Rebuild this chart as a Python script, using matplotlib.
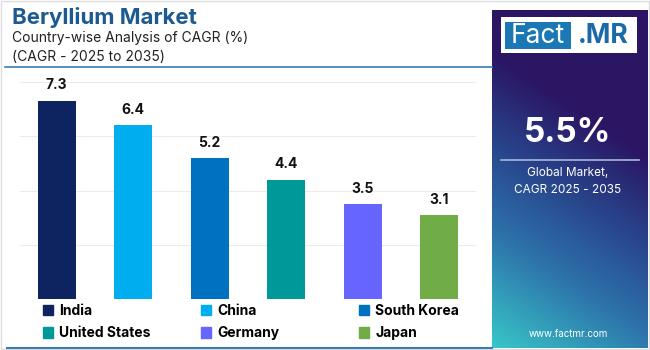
import numpy as np
import matplotlib
matplotlib.use("Agg")
import matplotlib.pyplot as plt
from matplotlib.colors import LinearSegmentedColormap
from matplotlib.patches import Rectangle
from matplotlib.lines import Line2D

# ---- data ----
countries = ["India", "China", "South Korea", "United States", "Germany", "Japan"]
cagr = [7.3, 6.4, 5.2, 4.4, 3.5, 3.1]
colors = ["#0d2461", "#00aeef", "#0070c0", "#009999", "#6666ff", "#70ad47"]
yticks = [0, 2, 4, 6, 8]
title = "Beryllium Market"
subtitle1 = "Country-wise Analysis of CAGR (%)"
subtitle2 = "(CAGR - 2025 to 2035)"
global_value = "5.5%"
global_label = "Global Market,\nCAGR 2025 - 2035"
website = "www.factmr.com"

FONT = "Inter"
W, H = 650, 350
fig = plt.figure(figsize=(6.5, 3.5), dpi=100)
fig.patch.set_facecolor("white")

def fx(px):
    return px / W

def fy(py):
    return 1 - py / H

# ---- main axes ----
ax = fig.add_axes([fx(20), fy(299.3), fx(476) - fx(20), (299.3 - 81.7) / H])
x = np.arange(len(countries))
bars = ax.bar(x, cagr, width=0.5, color=colors, zorder=3)
ax.set_xlim(-0.48, len(countries) - 0.52)
ax.set_ylim(0, 8)
ax.set_yticks(yticks)
ax.yaxis.grid(True, color="#ececec", linewidth=0.8, zorder=0)
ax.tick_params(left=False, bottom=False, labelleft=False, labelbottom=False)
for s in ax.spines.values():
    s.set_visible(False)
for b, v in zip(bars, cagr):
    ax.annotate(f"{v}", (b.get_x() + b.get_width() / 2, v), xytext=(0, 6),
                textcoords="offset points", ha="center", va="bottom",
                fontsize=10, fontweight="bold", family=FONT, color="#111111")

# ---- header ----
fig.text(fx(12), fy(17), title, fontsize=16, fontweight="bold", family=FONT,
         color="#1c5a90", va="center", ha="left")
fig.text(fx(12), fy(38), subtitle1, fontsize=10, family=FONT,
         color="#222222", va="center", ha="left")
fig.text(fx(12), fy(57), subtitle2, fontsize=10, family=FONT,
         color="#222222", va="center", ha="left")
fig.add_artist(Line2D([fx(5), fx(492)], [fy(66.7), fy(66.7)],
                      color="#3a7db5", linewidth=1.2))
fig.add_artist(Line2D([fx(7), fx(492)], [fy(348), fy(348)],
                      color="#3a7db5", linewidth=1.5))

# ---- legend (three columns) ----
col_x = [33, 191, 349]
cols = [[0, 3], [1, 4], [2, 5]]
for cx, idx in zip(col_x, cols):
    handles = [Rectangle((0, 0), 1, 1, color=colors[i]) for i in idx]
    labels = [countries[i] for i in idx]
    fig.legend(handles, labels, loc="upper left",
               bbox_to_anchor=(fx(cx), fy(294)), frameon=False,
               prop={"family": FONT, "weight": "bold", "size": 10},
               handlelength=0.75, handleheight=0.75, handletextpad=0.45,
               labelspacing=0.62, borderpad=0.2)

# ---- right panel with gradient ----
pax = fig.add_axes([fx(491.7), fy(348), fx(646.7) - fx(491.7), (348 - 10) / H])
cmap = LinearSegmentedColormap.from_list(
    "panel", [(0.0, "#38c6c8"), (0.4, "#2d72aa"), (0.72, "#28428a"), (1.0, "#2b1664")])
u = np.linspace(0, 1, 200)[None, :]
v = np.linspace(1, 0, 400)[:, None]
s = np.clip(v * 1.15 + u * 0.35, 0, 1)
pax.imshow(s, cmap=cmap, aspect="auto", extent=[0, 1, 0, 1], vmin=0, vmax=1)
pax.set_xlim(0, 1)
pax.set_ylim(0, 1)
pax.axis("off")

def pxp(px):
    return (px - 491.7) / (646.7 - 491.7)

def pyp(py):
    return (348 - py) / (348 - 10)

# logo
pax.add_patch(Rectangle((pxp(501), pyp(53.3)), pxp(637) - pxp(501), pyp(17.3) - pyp(53.3),
                        facecolor="white", edgecolor="none"))
pax.add_patch(Rectangle((pxp(505), pyp(49.3)), pxp(571) - pxp(505), pyp(21.7) - pyp(49.3),
                        facecolor="#1a78b4", edgecolor="none"))
pax.text(pxp(538), pyp(36), "Fact", color="white", fontsize=19, family=FONT,
         ha="center", va="center")
pax.text(pxp(603), pyp(36), ".MR", color="#1a6aa8", fontsize=19, family=FONT,
         fontweight="bold", ha="center", va="center")

pax.text(pxp(568), pyp(133), global_value, color="white", fontsize=24, family=FONT,
         fontweight="bold", ha="center", va="center")
pax.plot([pxp(501), pxp(639)], [pyp(160), pyp(160)], color="#a9b8d8", linewidth=1.2)
pax.text(pxp(568), pyp(181.5), global_label, color="white", fontsize=8.5, family=FONT,
         ha="center", va="center", linespacing=1.5)
pax.text(pxp(568), pyp(334), website, color="white", fontsize=7, family=FONT,
         ha="center", va="center")

# outer border
fig.add_artist(Rectangle((0.001, 0.002), 0.997, 0.995, transform=fig.transFigure,
                         fill=False, edgecolor="#dddddd", linewidth=1))

fig.savefig("out.png", dpi=100, facecolor="white")
